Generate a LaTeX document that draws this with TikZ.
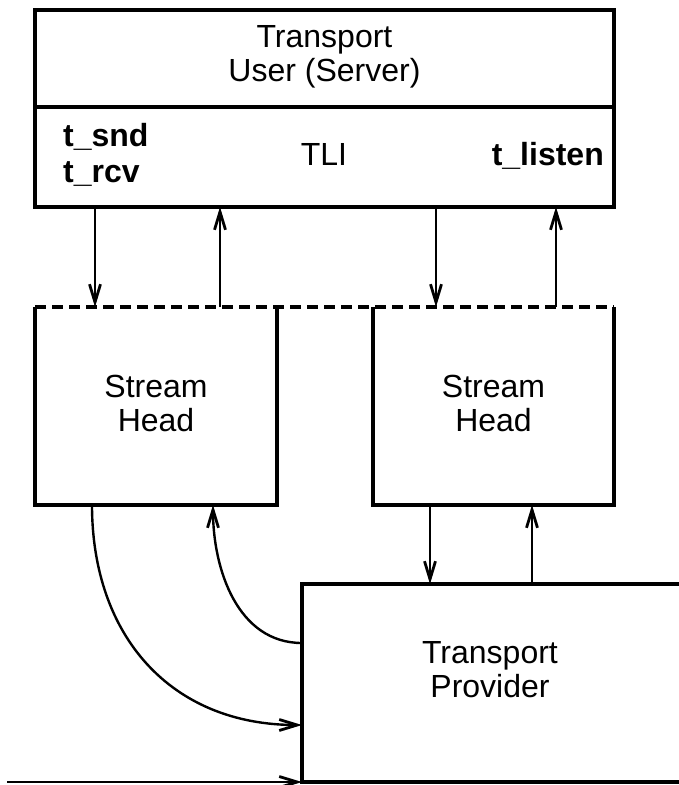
\documentclass[tikz,border=0pt]{standalone}
\usepackage{fontspec}
\setmainfont{Liberation Sans}
\usetikzlibrary{positioning,arrows.meta}

\tikzset{
  lbl/.style={font=\fontsize{32}{34}\selectfont, align=center, inner sep=0pt},
  blbl/.style={font=\fontsize{32}{36}\selectfont\bfseries, align=left, inner sep=0pt},
  frame/.style={line width=3.2pt},
  ghost/.style={inner sep=0pt, outer sep=0pt},
  dashline/.style={line width=3.2pt, dash pattern=on 11pt off 6pt},
  arr/.style={line width=2.4pt, -{Straight Barb[length=18pt,width=11pt,line width=2.8pt]}},
}

\begin{document}
\begin{tikzpicture}[x=1pt,y=-1pt]
\useasboundingbox (0,0) rectangle (679,785);

% transport user
\node[draw, frame, ghost, minimum width=579pt, minimum height=197pt] (user) at (324.5,108.5) {};
\draw[frame] (user.west |- 0,107) -- (user.east |- 0,107);
\node[lbl] (title) at (324.5,57) {Transport\\User (Server)};
\node[blbl, anchor=west] (sndrcv) at (63,155) {t\_snd\\t\_rcv};
\node[lbl, anchor=base] (tli) at (324,165) {TLI};
\node[blbl, anchor=base east] (listen) at (604,165) {t\_listen};

% stream heads
\node[ghost, minimum width=242pt, minimum height=198pt] (headL) at (156,406) {};
\node[ghost, minimum width=241pt, minimum height=198pt] (headR) at (493.5,406) {};
\draw[frame] (headL.north west) -- (headL.south west) -- (headL.south east) -- (headL.north east);
\draw[frame] (headR.north west) -- (headR.south west) -- (headR.south east) -- (headR.north east);
\draw[dashline] (headL.north west) -- (headR.north east);
\node[lbl] (shL) at (156,403) {Stream\\Head};
\node[lbl] (shR) at (493.5,403) {Stream\\Head};

% transport provider
\node[ghost, minimum width=400pt, minimum height=198pt] (provider) at (502,683) {};
\draw[frame] (provider.north east) -- (provider.north west) -- (provider.south west) -- (provider.south east);
\node[lbl] (provlbl) at (490,670) {Transport\\Provider};

% user <-> stream heads
\draw[arr] (user.south -| 95,0) -- (headL.north -| 95,0);
\draw[arr] (headL.north -| 220,0) -- (user.south -| 220,0);
\draw[arr] (user.south -| 436,0) -- (headR.north -| 436,0);
\draw[arr] (headR.north -| 556,0) -- (user.south -| 556,0);

% stream heads <-> provider
\draw[arr] (headR.south -| 430,0) -- (provider.north -| 430,0);
\draw[arr] (provider.north -| 532,0) -- (headR.south -| 532,0);
\draw[arr] (headL.south -| 92,0) to[out=-90,in=180,looseness=1.1] (provider.west |- 0,725);
\draw[arr] (provider.west |- 0,643) to[out=180,in=-90] (headL.south -| 213,0);

\coordinate (inlet) at (7,782);
\draw[arr] (inlet) -- (provider.south west);
\end{tikzpicture}
\end{document}
